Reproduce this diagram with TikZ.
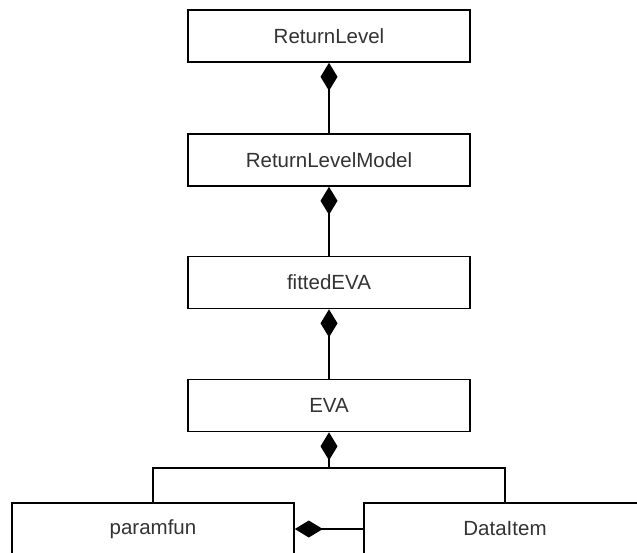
\documentclass[tikz,border=0pt]{standalone}
\usepackage{fontspec}
\setmainfont{Liberation Sans}
\usetikzlibrary{arrows.meta}
\definecolor{txt}{HTML}{333333}
\tikzset{
  cls/.style={draw=black, line width=1.6pt, fill=white, minimum width=282pt, minimum height=52pt,
    inner sep=0pt, text=txt, font=\fontsize{20.5pt}{24pt}\selectfont},
  link/.style={draw=black, line width=1.6pt},
  comp/.style={link, {Diamond[length=28pt,width=17pt,fill=black]}-}
}
\begin{document}
\begin{tikzpicture}[x=1pt,y=-1pt]
\useasboundingbox (0,0) rectangle (637,552);
\clip (0,0) rectangle (637,552);
\node[cls] (rl) at (329,36) {ReturnLevel};
\node[cls] (rlm) at (329,160) {ReturnLevelModel};
\node[cls] (fe) at (329,282.5) {fittedEVA};
\node[cls] (eva) at (329,405.5) {EVA};
\node[cls] (pf) at (153,529) {paramfun};
\node[cls] (di) at (505,529) {DataItem};
\coordinate (j) at (329,468);
\draw[comp] (rl.south) -- (rlm.north);
\draw[comp] (rlm.south) -- (fe.north);
\draw[comp] (fe.south) -- (eva.north);
\draw[comp] (eva.south) -- (j);
\draw[link] (pf.north) |- (j) -| (di.north);
\draw[comp] (pf.east) -- (di.west);
\end{tikzpicture}
\end{document}
